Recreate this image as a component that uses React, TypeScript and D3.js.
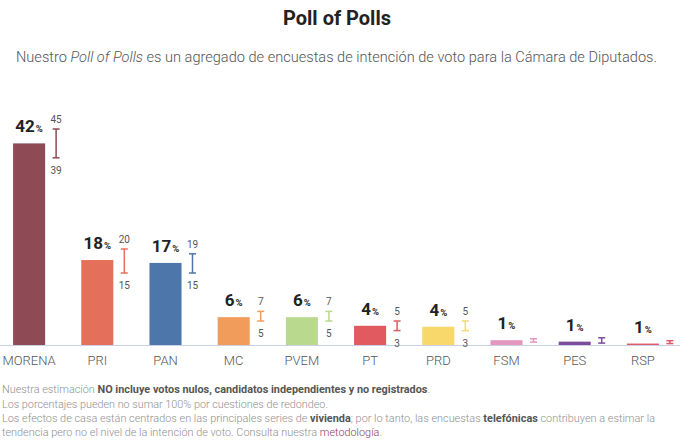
import React from "react";
import * as d3 from "d3";

const parties = ["MORENA", "PRI", "PAN", "MC", "PVEM", "PT", "PRD", "FSM", "PES", "RSP"];
const estimates = [42, 17.7, 17.1, 5.8, 5.8, 4.0, 3.8, 1.0, 0.7, 0.3];
const valueLabels = ["42", "18", "17", "6", "6", "4", "4", "1", "1", "1"];
const lows = [39, 15, 15, 5, 5, 3, 3, 0.6, 0.4, 0.3];
const highs = [45, 20, 19, 7, 7, 5, 5, 1.3, 1.5, 0.9];
const lowLabels = ["39", "15", "15", "5", "5", "3", "3", "", "", ""];
const highLabels = ["45", "20", "19", "7", "7", "5", "5", "", "", ""];
const colors = ["#8e4a55", "#e4705b", "#4d77aa", "#f29c5b", "#b9d98e", "#e05a60", "#f8d76b", "#e396be", "#7b4c9a", "#e0596a"];

const W = 680;
const H = 442;
const baseY = 345;
const font = "Roboto, 'Noto Sans', sans-serif";

export default function App() {
  const x = d3.scaleBand<string>().domain(parties).range([-5, 677]).paddingInner(0.53).paddingOuter(0.265);
  const y = d3.scaleLinear().domain([0, 42]).range([baseY, 143.4]);
  const bw = x.bandwidth();

  return (
    <svg width={W} height={H} style={{ position: "absolute", left: 0, top: 0, background: "#fff" }} fontFamily={font}>
      <text x={337} y={25} textAnchor="middle" fontSize={20} fontWeight={700} fill="#222">Poll of Polls</text>
      <text x={16} y={62} fontSize={15.5} fontWeight={300} fill="#555" textLength={641} lengthAdjust="spacingAndGlyphs">
        Nuestro <tspan fontStyle="italic">Poll of Polls</tspan> es un agregado de encuestas de intención de voto para la Cámara de Diputados.
      </text>

      <line x1={0} x2={W} y1={baseY + 0.5} y2={baseY + 0.5} stroke="#c9d1e3" strokeWidth={1} />

      {parties.map((p, i) => {
        const x0 = x(p)!;
        const cx = x0 + bw / 2;
        const ex = cx + 27;
        const yv = y(estimates[i]);
        const yh = y(highs[i]);
        const yl = y(lows[i]);
        return (
          <g key={p}>
            <rect x={x0} y={yv} width={bw} height={baseY - yv} fill={colors[i]} />
            <text x={cx} y={yv - 11} textAnchor="middle" fill="#222" fontWeight={700}>
              <tspan fontSize={17}>{valueLabels[i]}</tspan>
              <tspan fontSize={9.5} dx={1}>%</tspan>
            </text>
            <line x1={ex} x2={ex} y1={yh} y2={yl} stroke={colors[i]} strokeWidth={1.5} />
            <line x1={ex - 3.5} x2={ex + 3.5} y1={yh} y2={yh} stroke={colors[i]} strokeWidth={1.5} />
            <line x1={ex - 3.5} x2={ex + 3.5} y1={yl} y2={yl} stroke={colors[i]} strokeWidth={1.5} />
            {highLabels[i] && (
              <text x={ex} y={yh - 6} textAnchor="middle" fontSize={10} fill="#555">{highLabels[i]}</text>
            )}
            {lowLabels[i] && (
              <text x={ex} y={yl + 16} textAnchor="middle" fontSize={10} fill="#555">{lowLabels[i]}</text>
            )}
            <text x={cx} y={365} textAnchor="middle" fontSize={13} fontWeight={300} fill="#555">{p}</text>
          </g>
        );
      })}

      <g fontSize={11.5} fontWeight={300} fill="#8f8f8f">
        <text x={2} y={393} textLength={428} lengthAdjust="spacingAndGlyphs">
          Nuestra estimación <tspan fontWeight={700} fill="#555">NO incluye votos nulos, candidatos independientes y no registrados</tspan>.
        </text>
        <text x={2} y={408} textLength={326} lengthAdjust="spacingAndGlyphs">Los porcentajes pueden no sumar 100% por cuestiones de redondeo.</text>
        <text x={2} y={422} textLength={653} lengthAdjust="spacingAndGlyphs">
          Los efectos de casa están centrados en las principales series de <tspan fontWeight={700} fill="#555">vivienda</tspan>; por lo tanto, las encuestas <tspan fontWeight={700} fill="#555">telefónicas</tspan> contribuyen a estimar la
        </text>
        <text x={2} y={436} textLength={380} lengthAdjust="spacingAndGlyphs">
          tendencia pero no el nivel de la intención de voto. Consulta nuestra <tspan fill="#8b3a55">metodología</tspan>.
        </text>
      </g>
    </svg>
  );
}
